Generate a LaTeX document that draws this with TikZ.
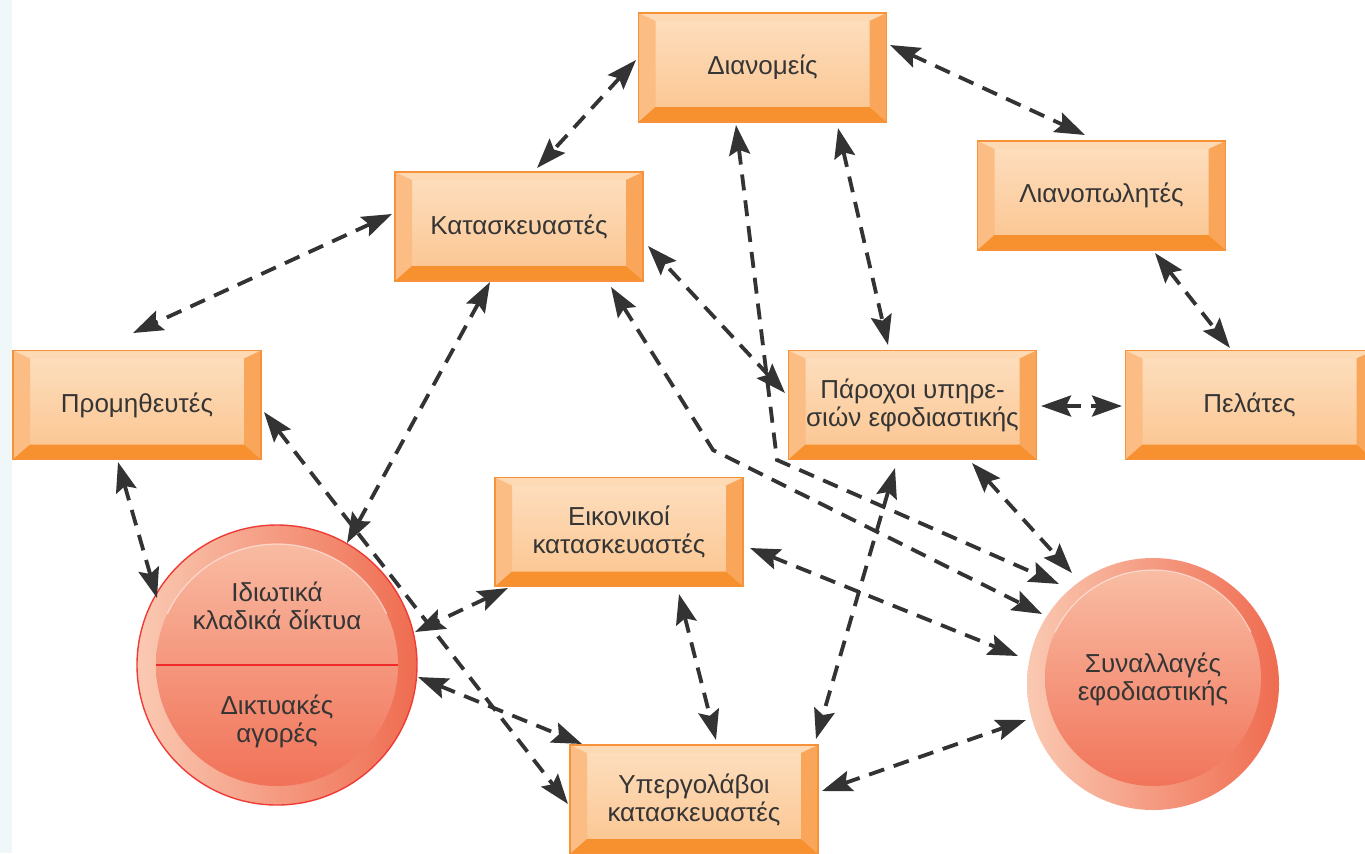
\documentclass[tikz,border=0pt]{standalone}
\usepackage{fontspec}
\newfontfamily\gfont{Liberation Sans}
\usetikzlibrary{arrows.meta}
\definecolor{boxedge}{HTML}{F7923A}
\definecolor{facetop}{HTML}{FDDFC0}
\definecolor{facebot}{HTML}{FBC48E}
\definecolor{bevL}{HTML}{FBBD84}
\definecolor{bevR}{HTML}{F9A65A}
\definecolor{bevB}{HTML}{F7902E}
\definecolor{bevT}{HTML}{FDD9B4}
\definecolor{txt}{HTML}{353535}
\definecolor{arr}{HTML}{333333}
\definecolor{cirL}{HTML}{FAC9B2}
\definecolor{cirR}{HTML}{EF6C50}
\definecolor{inT}{HTML}{F9C1A8}
\definecolor{inB}{HTML}{F06C52}
\definecolor{cirEdge}{HTML}{EE3B36}
\definecolor{divider}{HTML}{EE2A2A}
\definecolor{strip}{HTML}{F0F7F9}
\def\pp{path picture bounding box}
\begin{document}
\begin{tikzpicture}[x=0.5pt,y=-0.5pt,
  bx/.style={rectangle, minimum width=124pt, minimum height=54.5pt, inner sep=0pt,
    draw=boxedge, line width=0.6pt, top color=facetop, bottom color=facebot,
    text=txt, align=center, font=\gfont\fontsize{13}{14}\selectfont,
    path picture={
      \fill[bevT] (\pp.north west) -- (\pp.north east) -- ([shift={(-8.5pt,-4pt)}]\pp.north east) -- ([shift={(8.5pt,-4pt)}]\pp.north west) -- cycle;
      \fill[bevL] (\pp.north west) -- (\pp.south west) -- ([shift={(8.5pt,7.5pt)}]\pp.south west) -- ([shift={(8.5pt,-4pt)}]\pp.north west) -- cycle;
      \fill[bevR] (\pp.north east) -- (\pp.south east) -- ([shift={(-8.5pt,7.5pt)}]\pp.south east) -- ([shift={(-8.5pt,-4pt)}]\pp.north east) -- cycle;
      \fill[bevB] (\pp.south west) -- (\pp.south east) -- ([shift={(-8.5pt,7.5pt)}]\pp.south east) -- ([shift={(8.5pt,7.5pt)}]\pp.south west) -- cycle;
    }},
  cir/.style={circle, inner sep=0pt, left color=cirL, right color=cirR},
  lbl/.style={text=txt, align=center, font=\gfont\fontsize{13}{14}\selectfont},
  ar/.style={draw=arr, line width=1.9pt, dash pattern=on 8pt off 5pt, line join=miter,
    {Stealth[length=15pt,width=10.5pt,inset=2.5pt]}-{Stealth[length=15pt,width=10.5pt,inset=2.5pt]}}
]
\useasboundingbox (0,0) rectangle (1365,853);
\fill[strip] (0,0) rectangle (12,853);

% boxes
\node[bx] (D) at (762.5,67.5) {Διανομείς};
\node[bx] (L) at (1101.5,195.5) {Λιανοπωλητές};
\node[bx] (K) at (519,226.5) {Κατασκευαστές};
\node[bx] (P) at (137,405) {Προμηθευτές};
\node[bx] (Par) at (912.5,405) {Πάροχοι υπηρε-\\σιών εφοδιαστικής};
\node[bx] (Pel) at (1249.5,405) {Πελάτες};
\node[bx] (E) at (619,532) {Εικονικοί\\κατασκευαστές};
\node[bx] (Y) at (694,799.5) {Υπεργολάβοι\\κατασκευαστές};

% circles
\node[cir, draw=cirEdge, line width=0.7pt, minimum size=140pt,
  path picture={
    \shade[top color=inT, bottom color=inB] (\pp.center) circle (60.5pt);
    \draw[white, opacity=0.5, line width=0.6pt] ([shift={(155:60.5pt)}]\pp.center) arc[start angle=155, end angle=25, radius=60.5pt];
    \draw[divider, line width=1.1pt] ([xshift=-60.5pt]\pp.center) -- ([xshift=60.5pt]\pp.center);
  }] (I) at (277,665) {};
\node[cir, minimum size=126pt,
  path picture={
    \shade[top color=inT, bottom color=inB] ([yshift=3pt]\pp.center) circle (54pt);
    \draw[white, opacity=0.5, line width=0.6pt] ([shift={(155:54pt)},yshift=3pt]\pp.center) arc[start angle=155, end angle=25, radius=54pt];
  }] (S) at (1153,684) {};

\node[lbl] (It) at (277,606) {Ιδιωτικά\\κλαδικά δίκτυα};
\node[lbl] (Ib) at (277,721) {Δικτυακές\\αγορές};
\node[lbl] (St) at (1153,679) {Συναλλαγές\\εφοδιαστικής};

% bend points
\coordinate (bDS) at (777,460);
\coordinate (bKS) at (713,450);

% connectors
\draw[ar] ([shift={(-126.5,-7.5)}]D.center) -- ([shift={(18,-58.5)}]K.center);
\draw[ar] ([shift={(127.5,-22.5)}]D.center) -- ([shift={(-16.5,-60.5)}]L.center);
\draw[ar] ([shift={(53.5,57.5)}]L.center) -- ([shift={(-19.5,-57)}]Pel.center);
\draw[ar] ([shift={(128.5,1)}]Par.center) -- ([shift={(-127.5,1)}]Pel.center);
\draw[ar] ([shift={(75.5,60.5)}]D.center) -- ([shift={(-24.5,-60)}]Par.center);
\draw[ar] ([shift={(-26.5,57.5)}]D.center) -- (bDS) -- ([shift={(-94,-100)}]S.center);
\draw[ar] ([shift={(-127.5,-12)}]Par.center) -- ([shift={(129,19.5)}]K.center);
\draw[ar] ([shift={(-17.5,63)}]Par.center) -- ([shift={(122,-60.5)}]Y.center);
\draw[ar] ([shift={(128,-8.5)}]Y.center) -- ([shift={(-127,36)}]S.center);
\draw[ar] ([shift={(60,62)}]E.center) -- ([shift={(22,-59.5)}]Y.center);
\draw[ar] ([shift={(-111,56)}]E.center) -- ([shift={(138,-33)}]I.center);
\draw[ar] ([shift={(141,12)}]I.center) -- ([shift={(-112,-55.5)}]Y.center);
\draw[ar] ([shift={(127,7)}]P.center) -- ([shift={(-126,4.5)}]Y.center);
\draw[ar] ([shift={(-29,55.5)}]K.center) -- ([shift={(70,-122)}]I.center);
\draw[ar] ([shift={(-127,-12.5)}]K.center) -- ([shift={(-4,-72)}]P.center);
\draw[ar] ([shift={(-19,57)}]P.center) -- ([shift={(-120,-67)}]I.center);
\draw[ar] ([shift={(59.5,58)}]Par.center) -- ([shift={(-81,-111)}]S.center);
\draw[ar] ([shift={(92,60.5)}]K.center) -- (bKS) -- ([shift={(-111,-70)}]S.center);
\draw[ar] ([shift={(131,16)}]E.center) -- ([shift={(-135,-28)}]S.center);
\end{tikzpicture}
\end{document}
